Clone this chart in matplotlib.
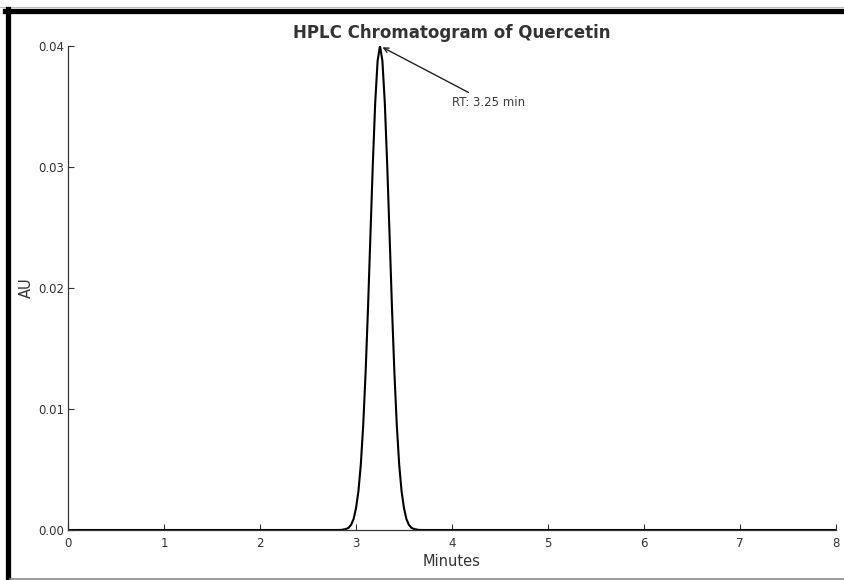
import matplotlib

matplotlib.use("Agg")
import matplotlib.pyplot as plt
from matplotlib.lines import Line2D

# retention time (min) and absorbance (AU)
minutes = [0.0, 2.80, 2.85, 2.90, 2.925, 2.95, 2.975, 3.00, 3.025, 3.05, 3.075,
           3.10, 3.125, 3.15, 3.175, 3.20, 3.225, 3.25, 3.275, 3.30, 3.325,
           3.35, 3.375, 3.40, 3.425, 3.45, 3.475, 3.50, 3.525, 3.55, 3.575,
           3.60, 3.65, 3.70, 8.0]
absorbance = [0.0, 0.0, 0.00001, 0.00009, 0.00020, 0.00044, 0.00091, 0.0018,
              0.00318, 0.0054, 0.00865, 0.0130, 0.01832, 0.0243, 0.03019,
              0.0353, 0.03877, 0.0400, 0.03877, 0.0353, 0.03019, 0.0243,
              0.01832, 0.0130, 0.00865, 0.0054, 0.00318, 0.0018, 0.00091,
              0.00044, 0.00020, 0.00009, 0.00001, 0.0, 0.0]

peak_time = 3.25
peak_height = 0.04
label_pos = (4.0, 0.035)

fig = plt.figure(figsize=(8.44, 5.80), dpi=100)
ax = fig.add_axes([68 / 844, 50 / 580, 768 / 844, 484 / 580])

ax.plot(minutes, absorbance, color="black", linewidth=1.5)

ax.annotate(f"RT: {peak_time} min", xy=(peak_time, peak_height), xytext=label_pos,
            fontsize=8.5, color="#3a3a3a",
            arrowprops=dict(arrowstyle="->", color="#222222", linewidth=1))

ax.set_xlim(0, 8)
ax.set_ylim(0, 0.04)
ax.set_xticks(range(0, 9))
ax.set_yticks([0.0, 0.01, 0.02, 0.03, 0.04])
ax.set_yticklabels(["0.00", "0.01", "0.02", "0.03", "0.04"])
ax.tick_params(direction="in", length=4, width=0.8, labelsize=8.5, labelcolor="#333333",
               color="#333333")
ax.tick_params(axis="x", pad=5)
ax.tick_params(axis="y", pad=3)
for side in ("top", "right"):
    ax.spines[side].set_visible(False)
for side in ("left", "bottom"):
    ax.spines[side].set_linewidth(0.9)
    ax.spines[side].set_color("#333333")

ax.set_title("HPLC Chromatogram of Quercetin", fontsize=12, fontweight="bold",
             color="#333333", pad=6)
ax.set_xlabel("Minutes", fontsize=10.5, color="#333333", labelpad=3)
ax.set_ylabel("AU", fontsize=10.5, color="#333333", labelpad=3)

# screenshot frame around the figure
H = 580
fig.add_artist(Line2D([0, 1], [1 - 7 / H, 1 - 7 / H], color="#bbbbbb", linewidth=0.8))
fig.add_artist(Line2D([5 / 844, 1], [1 - 10.5 / H, 1 - 10.5 / H], color="black", linewidth=3.8))
fig.add_artist(Line2D([7.5 / 844, 7.5 / 844], [1 - 8.5 / H, 2 / H], color="black", linewidth=3.8))
fig.add_artist(Line2D([10 / 844, 1], [1.5 / H, 1.5 / H], color="#888888", linewidth=1.2))

fig.savefig("out.png", dpi=100)
